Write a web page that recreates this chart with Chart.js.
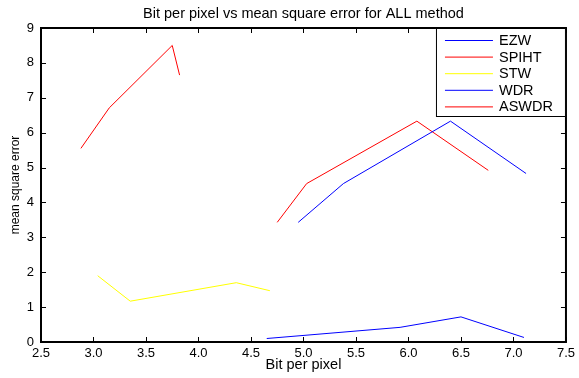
<!DOCTYPE html>
<html>
<head>
<meta charset="utf-8">
<script src="https://cdn.jsdelivr.net/npm/chart.js@4.4.1/dist/chart.umd.min.js"></script>
<style>
  html, body { margin: 0; padding: 0; background: #fff; }
  #wrap { width: 579px; height: 378px; }
</style>
</head>
<body>
<div id="wrap"><canvas id="myChart" width="579" height="378"></canvas></div>
<script>
// values (x = bit per pixel, y = mean square error)
const ezwX = [4.65, 5.92, 6.50, 7.10];
const ezwY = [0.10, 0.42, 0.72, 0.13];
const spihtX = [2.88, 3.15, 3.75, 3.82];
const spihtY = [5.55, 6.71, 8.50, 7.65];
const stwX = [3.04, 3.35, 4.36, 4.68];
const stwY = [1.90, 1.17, 1.70, 1.47];
const wdrX = [4.95, 5.38, 6.40, 7.12];
const wdrY = [3.43, 4.54, 6.33, 4.83];
const aswdrX = [4.75, 5.03, 6.08, 6.76];
const aswdrY = [3.43, 4.54, 6.33, 4.92];

const seriesNames = ["EZW", "SPIHT", "STW", "WDR", "ASWDR"];
const seriesColors = ["#0000ff", "#ff0000", "#ffff00", "#0000ff", "#ff0000"];
const xTicks = [2.5, 3, 3.5, 4, 4.5, 5, 5.5, 6, 6.5, 7, 7.5];
const yTicks = [0, 1, 2, 3, 4, 5, 6, 7, 8, 9];

const FONT = "'Liberation Sans', Arial, sans-serif";

function pts(xs, ys) {
  return xs.map((x, i) => ({ x: x, y: ys[i] }));
}

const allX = [ezwX, spihtX, stwX, wdrX, aswdrX];
const allY = [ezwY, spihtY, stwY, wdrY, aswdrY];

const datasets = seriesNames.map((name, i) => ({
  label: name,
  data: pts(allX[i], allY[i]),
  borderColor: seriesColors[i],
  backgroundColor: seriesColors[i],
  borderWidth: 1,
  pointRadius: 0,
  showLine: true,
  fill: false,
  tension: 0
}));

// matlab style box, inward ticks, title and legend
const matlabFrame = {
  id: "matlabFrame",
  afterDraw(chart) {
    const ctx = chart.ctx;
    const a = chart.chartArea;
    const xs = chart.scales.x;
    const ys = chart.scales.y;
    ctx.save();
    ctx.strokeStyle = "#000";
    ctx.lineWidth = 1;
    xTicks.forEach(v => {
      const px = Math.round(xs.getPixelForValue(v)) + 0.5;
      ctx.beginPath();
      ctx.moveTo(px, a.bottom); ctx.lineTo(px, a.bottom - 5);
      ctx.moveTo(px, a.top); ctx.lineTo(px, a.top + 5);
      ctx.stroke();
    });
    yTicks.forEach(v => {
      const py = Math.round(ys.getPixelForValue(v)) + 0.5;
      ctx.beginPath();
      ctx.moveTo(a.left, py); ctx.lineTo(a.left + 5, py);
      ctx.moveTo(a.right, py); ctx.lineTo(a.right - 5, py);
      ctx.stroke();
    });
    ctx.lineWidth = 2;
    ctx.strokeRect(a.left, a.top, a.right - a.left, a.bottom - a.top);

    // title
    ctx.fillStyle = "#000";
    ctx.font = "14.5px " + FONT;
    ctx.textAlign = "center";
    ctx.textBaseline = "middle";
    ctx.fillText("Bit per pixel vs mean square error for ALL method", (a.left + a.right) / 2, 14);

    // legend box in the top right corner
    const bw = 130, bh = 89;
    const bx = a.right - bw, by = a.top;
    ctx.fillStyle = "#fff";
    ctx.fillRect(bx, by, bw, bh);
    ctx.lineWidth = 1;
    ctx.strokeStyle = "#000";
    ctx.strokeRect(bx + 0.5, by + 0.5, bw - 1, bh - 1);
    ctx.font = "14.5px " + FONT;
    ctx.textAlign = "left";
    seriesNames.forEach((name, i) => {
      const ly = by + 12 + i * 16.6;
      ctx.strokeStyle = seriesColors[i];
      ctx.beginPath();
      ctx.moveTo(bx + 9, ly + 0.5); ctx.lineTo(bx + 57, ly + 0.5);
      ctx.stroke();
      ctx.fillStyle = "#000";
      ctx.fillText(name, bx + 63, ly + 1);
    });
    ctx.restore();
  }
};

new Chart(document.getElementById("myChart"), {
  type: "scatter",
  data: { datasets: datasets },
  options: {
    responsive: false,
    animation: false,
    layout: { padding: { left: 0, top: 28, right: 10, bottom: 0 } },
    plugins: {
      legend: { display: false },
      title: { display: false },
      tooltip: { enabled: false }
    },
    scales: {
      x: {
        type: "linear",
        min: 2.5,
        max: 7.5,
        afterBuildTicks: s => { s.ticks = xTicks.map(v => ({ value: v })); },
        afterFit: s => { s.height = 36; },
        grid: { display: false, drawTicks: false },
        border: { display: false },
        ticks: { color: "#000", font: { family: FONT, size: 13 }, padding: 4, maxRotation: 0 },
        title: { display: true, text: "Bit per pixel", color: "#000", font: { family: FONT, size: 14.5 }, padding: { top: 0, bottom: 4 } }
      },
      y: {
        type: "linear",
        min: 0,
        max: 9,
        afterBuildTicks: s => { s.ticks = yTicks.map(v => ({ value: v })); },
        afterFit: s => { s.width = 41; },
        grid: { display: false, drawTicks: false },
        border: { display: false },
        ticks: { color: "#000", font: { family: FONT, size: 13 }, padding: 7 },
        title: { display: true, text: "mean square error", color: "#000", font: { family: "'Liberation Sans Narrow', " + FONT, size: 12 }, padding: { top: 8, bottom: 0 } }
      }
    }
  },
  plugins: [matlabFrame]
});
</script>
</body>
</html>
